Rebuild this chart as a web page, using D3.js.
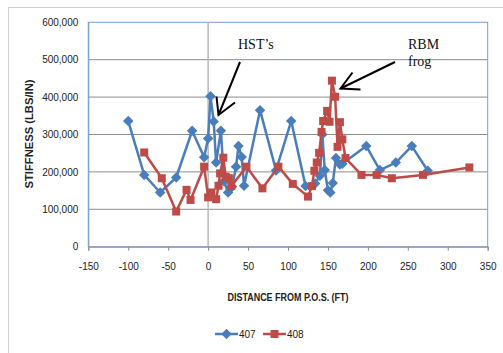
<!DOCTYPE html>
<html>
<head>
<meta charset="utf-8">
<script src="https://cdn.jsdelivr.net/npm/d3@7"></script>
<style>
  body { margin: 0; background: #fff; }
  svg { display: block; }
</style>
</head>
<body>
<div id="chart"></div>
<script>
// series 407
const dist407 = [-100, -80, -60, -40, -20, -5, 0, 3, 7, 10, 16, 20, 25, 30, 35, 38, 42, 45, 65, 85,
  104, 122, 134, 140, 143, 146, 150, 153, 156, 160, 165, 168, 198, 215, 235, 255, 275];
const stiff407 = [336000, 192000, 145000, 185000, 310000, 239000, 289000, 402000, 335000, 225000,
  310000, 175000, 145000, 160000, 214000, 269000, 240000, 163000, 365000, 204000,
  336000, 162000, 169000, 190000, 300000, 205000, 151000, 145000, 170000, 237000,
  220000, 222000, 269000, 205000, 225000, 269000, 203000];

// series 408
const dist408 = [-80, -58, -40, -27, -22, -5, 0, 4, 10, 13, 15, 19, 22, 26, 29, 48, 68, 88, 106, 125,
  130, 133, 136, 139, 142, 144, 149, 152, 155, 159, 162, 165, 168, 172, 192, 211, 230, 269, 327];
const stiff408 = [252000, 183000, 94000, 152000, 125000, 214000, 132000, 145000, 127000, 163000,
  196000, 238000, 187000, 183000, 162000, 214000, 156000, 214000, 168000, 134000,
  162000, 203000, 225000, 251000, 307000, 336000, 363000, 334000, 444000, 401000,
  267000, 333000, 287000, 237000, 192000, 192000, 183000, 192000, 212000];

const xTicks = [-150, -100, -50, 0, 50, 100, 150, 200, 250, 300, 350];
const yTicks = [0, 100000, 200000, 300000, 400000, 500000, 600000];

const W = 503, H = 353;
const pLeft = 88.3, pRight = 487.7, pTop = 22.3, pBottom = 246.7;

const svg = d3.select("#chart").append("svg")
  .attr("width", W)
  .attr("height", H);

// chart frame
svg.append("rect")
  .attr("x", 8.5).attr("y", 7.5)
  .attr("width", W).attr("height", H)
  .attr("fill", "none")
  .attr("stroke", "#d0d0d0");

const x = d3.scaleLinear().domain([-150, 350]).range([pLeft, pRight]);
const y = d3.scaleLinear().domain([0, 600000]).range([pBottom, pTop]);

// gridlines
svg.append("g").selectAll("line")
  .data(yTicks.slice(1, -1))
  .enter().append("line")
  .attr("x1", pLeft).attr("x2", pRight)
  .attr("y1", d => y(d)).attr("y2", d => y(d))
  .attr("stroke", "#8c8c8c")
  .attr("stroke-width", 1);

// plot border
svg.append("rect")
  .attr("x", pLeft).attr("y", pTop)
  .attr("width", pRight - pLeft).attr("height", pBottom - pTop)
  .attr("fill", "none")
  .attr("stroke", "#7a9fd0")
  .attr("stroke-width", 1);

// vertical line at zero
svg.append("line")
  .attr("x1", x(0)).attr("x2", x(0))
  .attr("y1", pTop).attr("y2", pBottom)
  .attr("stroke", "#b8b8b8")
  .attr("stroke-width", 1.5);

// x axis
const xAxis = d3.axisBottom(x)
  .tickValues(xTicks)
  .tickSize(4)
  .tickPadding(12)
  .tickFormat(d => String(d));

const gx = svg.append("g")
  .attr("transform", `translate(0,${pBottom})`)
  .call(xAxis);
gx.select(".domain").attr("stroke", "#8c8c8c");
gx.selectAll(".tick line").attr("stroke", "#8c8c8c");
gx.selectAll("text")
  .attr("font-family", "Liberation Sans, Arial, sans-serif")
  .attr("font-size", 10)
  .attr("fill", "#222");

// y axis
const yAxis = d3.axisLeft(y)
  .tickValues(yTicks)
  .tickSize(0)
  .tickPadding(10)
  .tickFormat(d3.format(","));

const gy = svg.append("g")
  .attr("transform", `translate(${pLeft},0)`)
  .call(yAxis);
gy.select(".domain").attr("stroke", "#7a9fd0");
gy.selectAll("text")
  .attr("font-family", "Liberation Sans, Arial, sans-serif")
  .attr("font-size", 10)
  .attr("fill", "#222");

// axis titles
svg.append("text")
  .attr("x", 288).attr("y", 301)
  .attr("text-anchor", "middle")
  .attr("font-family", "Liberation Sans, Arial, sans-serif")
  .attr("font-weight", "bold")
  .attr("font-size", 10)
  .attr("textLength", 121)
  .attr("lengthAdjust", "spacingAndGlyphs")
  .attr("fill", "#222")
  .text("DISTANCE FROM P.O.S. (FT)");

svg.append("text")
  .attr("transform", "translate(33,134) rotate(-90)")
  .attr("text-anchor", "middle")
  .attr("font-family", "Liberation Sans, Arial, sans-serif")
  .attr("font-weight", "bold")
  .attr("font-size", 10)
  .attr("textLength", 109)
  .attr("lengthAdjust", "spacingAndGlyphs")
  .attr("fill", "#222")
  .text("STIFFNESS (LBS/IN)");

const line = d3.line()
  .x(d => x(d[0]))
  .y(d => y(d[1]));

const blue = "#4a7ebb", red = "#be4b48";
const s407 = dist407.map((d, i) => [d, stiff407[i]]);
const s408 = dist408.map((d, i) => [d, stiff408[i]]);

// 407
svg.append("path")
  .datum(s407)
  .attr("d", line)
  .attr("fill", "none")
  .attr("stroke", blue)
  .attr("stroke-width", 2.5)
  .attr("stroke-linejoin", "round");

svg.append("g").selectAll("path")
  .data(s407)
  .enter().append("path")
  .attr("d", d3.symbol(d3.symbolDiamond2, 70))
  .attr("transform", d => `translate(${x(d[0])},${y(d[1])})`)
  .attr("fill", blue);

// 408
svg.append("path")
  .datum(s408)
  .attr("d", line)
  .attr("fill", "none")
  .attr("stroke", red)
  .attr("stroke-width", 2.5)
  .attr("stroke-linejoin", "round");

svg.append("g").selectAll("rect")
  .data(s408)
  .enter().append("rect")
  .attr("x", d => x(d[0]) - 4)
  .attr("y", d => y(d[1]) - 4)
  .attr("width", 8).attr("height", 8)
  .attr("fill", red);

// annotations
const ann = svg.append("g")
  .attr("font-family", "Liberation Serif, Times New Roman, serif")
  .attr("font-size", 14)
  .attr("fill", "#111");
ann.append("text").attr("x", 238).attr("y", 49).text("HST\u2019s");
ann.append("text").attr("x", 408).attr("y", 49).text("RBM");
ann.append("text").attr("x", 408).attr("y", 66).text("frog");

const arrows = svg.append("g")
  .attr("stroke", "#000")
  .attr("stroke-width", 2)
  .attr("fill", "none");
arrows.append("line").attr("x1", 240).attr("y1", 62).attr("x2", 218.5).attr("y2", 115);
arrows.append("polyline").attr("points", "216.5,96.5 218.5,115 235,102.5");
arrows.append("line").attr("x1", 395).attr("y1", 62).attr("x2", 340.5).attr("y2", 88.5);
arrows.append("polyline").attr("points", "352.5,72.5 340.5,88.5 360.5,89.5");

// legend
const lg = svg.append("g").attr("transform", "translate(0,334)");
lg.append("line").attr("x1", 215).attr("x2", 238).attr("y1", 0).attr("y2", 0)
  .attr("stroke", blue).attr("stroke-width", 2.5);
lg.append("path").attr("d", d3.symbol(d3.symbolDiamond2, 70))
  .attr("transform", "translate(226.5,0)").attr("fill", blue);
lg.append("text").attr("x", 239).attr("y", 4)
  .attr("font-family", "Liberation Sans, Arial, sans-serif").attr("font-size", 10)
  .attr("fill", "#222").text("407");
lg.append("line").attr("x1", 263).attr("x2", 286).attr("y1", 0).attr("y2", 0)
  .attr("stroke", red).attr("stroke-width", 2.5);
lg.append("rect").attr("x", 270.5).attr("y", -4).attr("width", 8).attr("height", 8)
  .attr("fill", red);
lg.append("text").attr("x", 287).attr("y", 4)
  .attr("font-family", "Liberation Sans, Arial, sans-serif").attr("font-size", 10)
  .attr("fill", "#222").text("408");
</script>
</body>
</html>
